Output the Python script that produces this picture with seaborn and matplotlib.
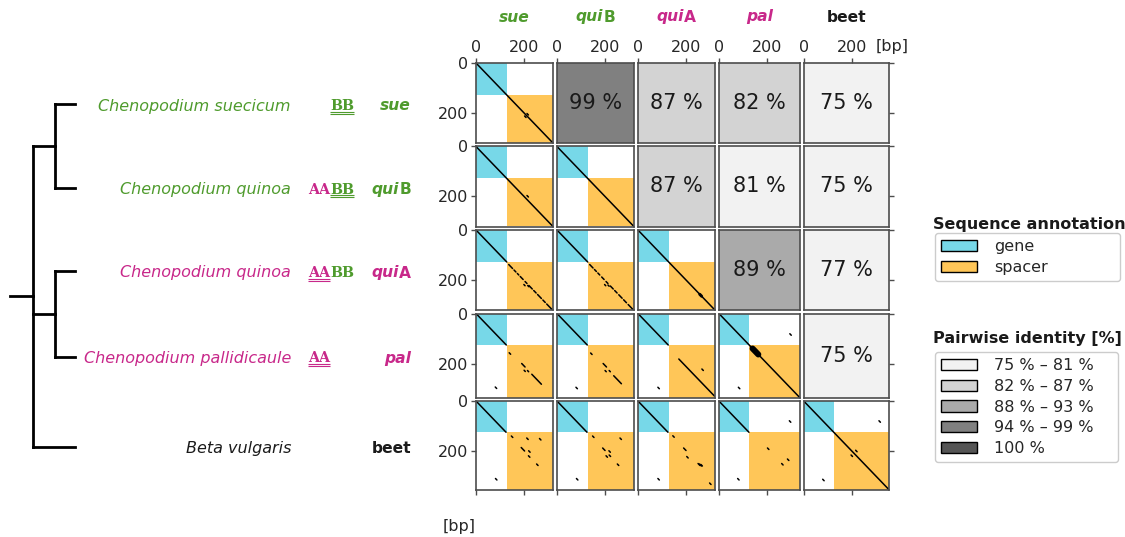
import numpy as np
import pandas as pd
import matplotlib
matplotlib.use("Agg")
import matplotlib.pyplot as plt
from matplotlib.patches import Patch, Rectangle
import seaborn as sns

# ---------------------------------------------------------------- data
seq_names = ["sue", "quiB", "quiA", "pal", "beet"]
species_names = ["Chenopodium suecicum", "Chenopodium quinoa", "Chenopodium quinoa",
                 "Chenopodium pallidicaule", "Beta vulgaris"]
seq_lengths = [320, 320, 320, 336, 356]      # bp
gene_lengths = [128, 128, 128, 126, 125]     # bp, remainder is spacer

# name of each sequence split into italic and upright part
name_italic = ["sue", "qui", "qui", "pal", ""]
name_upright = ["", "B", "A", "", "beet"]

# subgenome composition and which subgenome the sequence belongs to
subgenome_AA = ["", "AA", "AA", "AA", ""]
subgenome_BB = ["BB", "BB", "BB", "", ""]
subgenome_of_seq = ["BB", "BB", "AA", "AA", ""]

# pairwise identity [%] with every later sequence
identity_sue = [99, 87, 82, 75]
identity_quiB = [87, 81, 75]
identity_quiA = [89, 77]
identity_pal = [75]

identity_bin_lower = [75, 82, 88, 94, 100]
identity_bin_labels = ["75 % – 81 %", "82 % – 87 %", "88 % – 93 %", "94 % – 99 %", "100 %"]

# tree topology
tree = (("sue", "quiB"), ("quiA", "pal"), "beet")

# match segments of the dot plots: (x start, y start, length) in bp
hits_sue_sue = [(0, 0, 320), (202, 212, 6), (212, 202, 6)]
hits_quiB_sue = [(0, 0, 320), (212, 196, 6)]
hits_quiB_quiB = [(0, 0, 320)]
hits_quiA_sue = [(0, 0, 128), (136, 138, 16), (158, 160, 8), (172, 174, 6), (184, 186, 12),
                 (204, 206, 8), (220, 222, 14), (240, 242, 10), (256, 258, 16),
                 (278, 280, 10), (294, 296, 22), (199, 218, 5), (215, 222, 5)]
hits_quiA_quiB = [(0, 0, 128), (136, 138, 14), (156, 158, 8), (170, 172, 8), (186, 188, 10),
                  (204, 206, 8), (222, 224, 12), (240, 242, 10), (257, 259, 14),
                  (277, 279, 12), (296, 298, 20), (198, 218, 5), (212, 220, 5)]
hits_quiA_quiA = [(0, 0, 320)]
hits_pal_sue = [(0, 0, 126), (138, 157, 6), (190, 200, 14), (200, 227, 5), (214, 228, 5),
                (232, 243, 40), (80, 294, 6)]
hits_pal_quiB = [(0, 0, 126), (140, 158, 6), (192, 200, 14), (200, 228, 5), (217, 228, 5),
                 (236, 249, 32), (79, 295, 6)]
hits_pal_quiA = [(0, 0, 126), (170, 182, 148), (266, 222, 6), (83, 295, 6)]
hits_pal_pal = [(0, 0, 336), (295, 81, 6), (81, 295, 6)]
hits_beet_sue = [(0, 0, 125), (147, 140, 6), (211, 148, 6), (264, 150, 6), (188, 186, 14),
                 (219, 199, 6), (218, 219, 6), (252, 252, 6), (81, 310, 6)]
hits_beet_quiB = [(0, 0, 125), (148, 140, 6), (262, 148, 6), (190, 188, 10), (216, 199, 6),
                  (204, 219, 6), (217, 216, 6), (251, 252, 6), (81, 310, 6)]
hits_beet_quiA = [(0, 0, 125), (145, 139, 6), (190, 188, 10), (203, 222, 6), (298, 328, 6),
                  (83, 310, 6), (250, 250, 8), (256, 252, 8), (262, 254, 6)]
hits_beet_pal = [(0, 0, 125), (293, 79, 6), (202, 188, 6), (261, 250, 6), (285, 232, 6),
                 (78, 310, 6)]
hits_beet_beet = [(0, 0, 356), (313, 79, 6), (79, 313, 6), (216, 197, 6), (197, 216, 6)]

# tandem repeat blocks: (x start, y start, length, width) in bp
repeats_quiA_quiA = [(257, 257, 8, 12)]
repeats_pal_pal = [(140, 140, 24, 24)]

# ---------------------------------------------------------------- style
GREEN = "#4f9b2d"
MAGENTA = "#c8288a"
DARK = "#1a1a1a"
GENE_COLOR = "#77d8e8"
SPACER_COLOR = "#ffc658"
IDENTITY_COLORS = ["#f2f2f2", "#d3d3d3", "#aaaaaa", "#808080", "#555555"]
SPINE_COLOR = "#4d4d4d"
seq_colors = [GREEN, GREEN, MAGENTA, MAGENTA, DARK]
species_colors = [GREEN, GREEN, MAGENTA, MAGENTA, DARK]
subgenome_colors = {"AA": MAGENTA, "BB": GREEN}

sns.set_theme(style="white")
plt.rcParams["font.family"] = ["DejaVu Sans"]

W, H = 1125, 537
fig = plt.figure(figsize=(W / 100, H / 100), dpi=100)
renderer = fig.canvas.get_renderer()

# overlay in pixel units for tree and labels
ov = fig.add_axes([0, 0, 1, 1])
ov.set_xlim(0, W)
ov.set_ylim(H, 0)
ov.axis("off")

# grid geometry
GRID_LEFT, GRID_TOP = 476, 63
PX_X, PX_Y = 0.2405, 0.25
HGAP, VGAP = 4, 3.5
n = len(seq_names)
widths = [L * PX_X for L in seq_lengths]
heights = [L * PX_Y for L in seq_lengths]
lefts = [GRID_LEFT + sum(widths[:k]) + HGAP * k for k in range(n)]
tops = [GRID_TOP + sum(heights[:k]) + VGAP * k for k in range(n)]
row_centers = [t + h / 2 for t, h in zip(tops, heights)]

hits = {
    ("sue", "sue"): hits_sue_sue, ("quiB", "sue"): hits_quiB_sue,
    ("quiB", "quiB"): hits_quiB_quiB, ("quiA", "sue"): hits_quiA_sue,
    ("quiA", "quiB"): hits_quiA_quiB, ("quiA", "quiA"): hits_quiA_quiA,
    ("pal", "sue"): hits_pal_sue, ("pal", "quiB"): hits_pal_quiB,
    ("pal", "quiA"): hits_pal_quiA, ("pal", "pal"): hits_pal_pal,
    ("beet", "sue"): hits_beet_sue, ("beet", "quiB"): hits_beet_quiB,
    ("beet", "quiA"): hits_beet_quiA, ("beet", "pal"): hits_beet_pal,
    ("beet", "beet"): hits_beet_beet,
}
repeats = {("quiA", "quiA"): repeats_quiA_quiA, ("pal", "pal"): repeats_pal_pal}
identity_rows = [identity_sue, identity_quiB, identity_quiA, identity_pal]


def identity_color(value):
    idx = int(np.searchsorted(identity_bin_lower, value, side="right")) - 1
    return IDENTITY_COLORS[max(idx, 0)]


# ---------------------------------------------------------------- grid of panels
for i, rname in enumerate(seq_names):
    for j, cname in enumerate(seq_names):
        ax = fig.add_axes([lefts[j] / W, 1 - (tops[i] + heights[i]) / H,
                           widths[j] / W, heights[i] / H])
        if j > i:
            value = identity_rows[i][j - i - 1]
            ax.set_facecolor(identity_color(value))
            ax.text(0.5, 0.5, f"{value} %", transform=ax.transAxes, ha="center",
                    va="center", fontsize=15, color=DARK)
        else:
            gx, gy = gene_lengths[j], gene_lengths[i]
            ax.add_patch(Rectangle((0, 0), gx, gy, color=GENE_COLOR, lw=0))
            ax.add_patch(Rectangle((gx, gy), seq_lengths[j] - gx, seq_lengths[i] - gy,
                                   color=SPACER_COLOR, lw=0))
            rows = []
            for k, (x, y, length) in enumerate(hits[(rname, cname)]):
                rows.append((k, x, y))
                rows.append((k, x + length, y + length))
            df = pd.DataFrame(rows, columns=["hit", "x", "y"])
            sns.lineplot(data=df, x="x", y="y", units="hit", estimator=None, sort=False,
                         color="black", linewidth=1.1, ax=ax, legend=False,
                         solid_capstyle="round")
            for x, y, length, width in repeats.get((rname, cname), []):
                ax.plot([x, x + length], [y, y + length], color="black",
                        linewidth=width * PX_Y * 72 / 100, solid_capstyle="round")
        ax.set_xlim(0, seq_lengths[j])
        ax.set_ylim(seq_lengths[i], 0)
        ax.set_xlabel("")
        ax.set_ylabel("")
        ax.set_xticks([0, 200])
        ax.set_yticks([0, 200])
        ax.tick_params(top=(i == 0), bottom=(i == n - 1), left=(j == 0), right=(j == n - 1),
                       labeltop=(i == 0), labelbottom=False, labelleft=(j == 0),
                       labelright=False, length=3.5, width=1, color=SPINE_COLOR,
                       labelcolor="#262626", labelsize=11.5, pad=2)
        for sp in ax.spines.values():
            sp.set_color(SPINE_COLOR)
            sp.set_linewidth(1.2)

ov.text(876, 47, "[bp]", va="center", ha="left", fontsize=11.5, color="#262626")
ov.text(476, 527, "[bp]", va="center", ha="right", fontsize=11.5, color="#262626")


# ---------------------------------------------------------------- mixed-style labels
def place_pieces(x, y, pieces, ha="left"):
    texts = [ov.text(x, y, s, ha="left", va="baseline", **kw) for s, kw in pieces if s]
    ws = [t.get_window_extent(renderer).width for t in texts]
    start = {"left": x, "right": x - sum(ws), "center": x - sum(ws) / 2}[ha]
    for t, w in zip(texts, ws):
        t.set_x(start)
        start += w
    return texts


def name_pieces(k):
    kw = dict(fontsize=11.2, fontweight="bold", color=seq_colors[k])
    return [(name_italic[k], dict(kw, style="italic")), (name_upright[k], kw)]


# column headers
for j in range(n):
    place_pieces(lefts[j] + widths[j] / 2, 21.5, name_pieces(j), ha="center")

# row labels
probe = ov.text(0, 0, "AA", fontfamily="DejaVu Serif", fontweight="bold", fontsize=10.3)
aa_width = probe.get_window_extent(renderer).width
probe.remove()
for i in range(n):
    base = row_centers[i] + 7.5
    ov.text(291, base, species_names[i], ha="right", va="baseline", fontsize=11.5,
            style="italic", color=species_colors[i])
    place_pieces(411, base, name_pieces(i), ha="right")
    for s, x0 in ((subgenome_AA[i], 308), (subgenome_BB[i], 308 + aa_width)):
        if not s:
            continue
        t = ov.text(x0, base - 0.5, s, ha="left", va="baseline", fontfamily="DejaVu Serif",
                    fontweight="bold", fontsize=10.3, color=subgenome_colors[s])
        if s == subgenome_of_seq[i]:
            bb = t.get_window_extent(renderer)
            for dy in (1.3, 3.4):
                ov.plot([bb.x0, bb.x1], [base + dy, base + dy], color=subgenome_colors[s],
                        lw=0.8, solid_capstyle="butt")

# ---------------------------------------------------------------- tree
LEAF_X, STUB_X = 75, 10
NODE_X = [33, 55]
leaf_y = {name: row_centers[k] + 1 for k, name in enumerate(seq_names)}
tree_kw = dict(color="black", lw=2, solid_capstyle="projecting")


def draw_clade(node, level):
    if isinstance(node, str):
        return leaf_y[node], LEAF_X
    x = NODE_X[level]
    ys = []
    for child in node:
        cy, cx = draw_clade(child, level + 1)
        ov.plot([x, cx], [cy, cy], **tree_kw)
        ys.append(cy)
    ov.plot([x, x], [min(ys), max(ys)], **tree_kw)
    return (min(ys) + max(ys)) / 2, x


root_y, root_x = draw_clade(tree, 0)
ov.plot([STUB_X, root_x], [root_y, root_y], **tree_kw)

# ---------------------------------------------------------------- legends
leg_kw = dict(loc="upper left", mode="expand", borderaxespad=0, fontsize=11.5,
              handlelength=2.2, handleheight=0.7, handletextpad=1.1, labelspacing=0.35,
              frameon=True, edgecolor="0.8", fancybox=True, framealpha=1)

ov.text(933, 224, "Sequence annotation", ha="left", va="center", fontsize=11.5,
        fontweight="bold", color=DARK)
ann_handles = [Patch(facecolor=GENE_COLOR, edgecolor="black", lw=1, label="gene"),
               Patch(facecolor=SPACER_COLOR, edgecolor="black", lw=1, label="spacer")]
fig.legend(handles=ann_handles, bbox_to_anchor=(935 / W, 1 - 300 / H, 185 / W, 67 / H),
           **leg_kw)

ov.text(933, 338, "Pairwise identity [%]", ha="left", va="center", fontsize=11.5,
        fontweight="bold", color=DARK)
id_handles = [Patch(facecolor=c, edgecolor="black", lw=1, label=l)
              for c, l in zip(IDENTITY_COLORS, identity_bin_labels)]
fig.legend(handles=id_handles, bbox_to_anchor=(935 / W, 1 - 490 / H, 183 / W, 138 / H),
           **leg_kw)

fig.savefig("out.png", dpi=100)
